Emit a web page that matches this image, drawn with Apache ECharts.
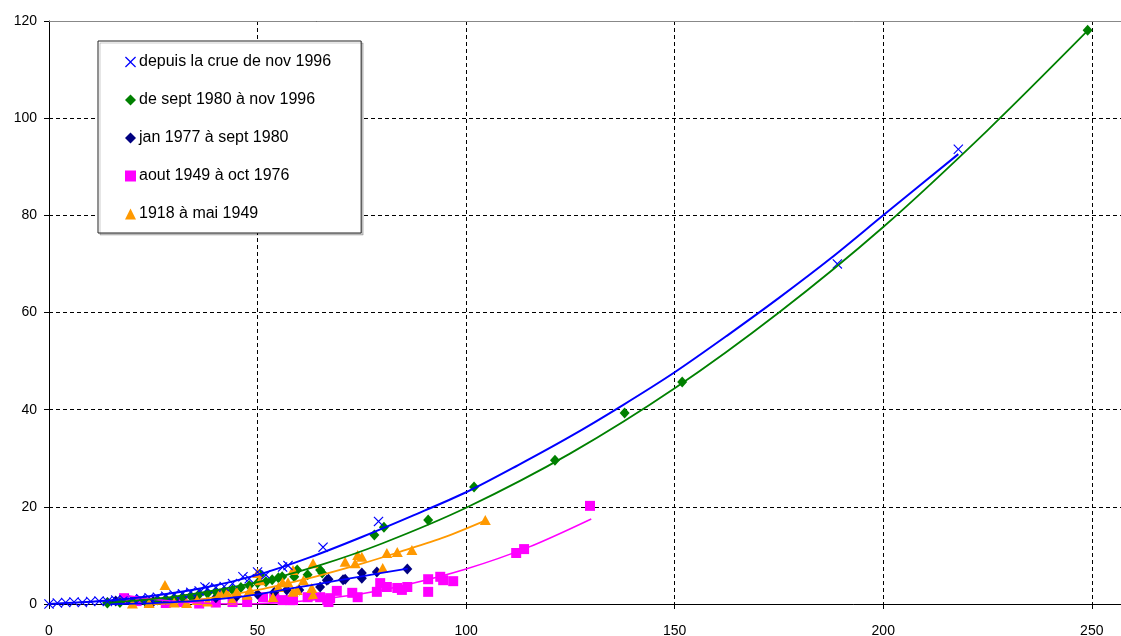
<!DOCTYPE html>
<html>
<head>
<meta charset="utf-8">
<script src="https://cdn.jsdelivr.net/npm/echarts@6/dist/echarts.min.js"></script>
<style>
  html, body { margin: 0; padding: 0; background: #fff; }
  #chart { width: 1121px; height: 636px; }
</style>
</head>
<body>
<div id="chart"></div>
<script>
// séries mesurées [x, y]
var crue1996 = [[0, 0], [2, 0.2], [4, 0.3], [6, 0.4], [8, 0.3], [10, 0.5], [12, 0.6], [14, 0.5], [16, 0.8], [18, 0.9],
    [20, 1.0], [22, 1.1], [24, 1.3], [26, 1.4], [28, 1.6], [30, 1.9], [32, 2.1], [34, 2.4], [36, 2.7], [37.4, 3.5],
    [38, 3.2], [40, 3.4], [42, 3.6], [44, 4.2], [46.5, 5.6], [48, 5.2], [50, 6.6], [52, 6.0], [56, 7.6], [57.3, 7.9],
    [65.7, 11.7], [79, 17], [189, 70], [218, 93.6]];
var sept1980 = [[14, 0.2], [17, 0.3], [20, 0.4], [23, 0.6], [26, 0.8], [28, 1.0], [30, 1.2], [32, 1.4], [34, 1.6],
    [36, 2.0], [38, 2.2], [40, 2.5], [42, 2.6], [44, 2.9], [46, 3.4], [48, 3.8], [50, 4.3], [50.6, 6.0], [52, 4.6],
    [53.5, 5.0], [55, 5.4], [55.9, 5.6], [58.8, 5.6], [59.5, 7.0], [62, 6.0], [65, 7.0], [65.5, 6.4], [78, 14.2],
    [80.3, 15.8], [90.9, 17.3], [101.9, 24.1], [121.3, 29.6], [138, 39.3], [151.8, 45.7], [249, 118.1]];
var jan1977 = [[14, 0.3], [16, 0.6], [20, 0.4], [25, 0.5], [30, 0.8], [35, 1.0], [40, 1.3], [45, 1.6], [50, 2.0],
    [54, 2.4], [57, 2.9], [60, 2.9], [65, 3.5], [66.6, 4.9], [67, 5.1], [70.5, 5.0], [71, 5.1], [75, 5.3], [75, 6.4],
    [78.6, 6.6], [85.9, 7.2]];
var aout1949 = [[18, 1.2], [21, 0.6], [24, 0.3], [28, 0.2], [32, 0.4], [36, 0.1], [40, 0.3], [44, 0.4], [47.5, 0.4],
    [51.3, 1.4], [54, 1.2], [56, 0.8], [57.8, 0.8], [58.5, 0.8], [62, 1.4], [65, 1.4], [66.7, 0.8], [67, 0.4],
    [67.4, 1.2], [69, 2.7], [72.7, 2.3], [74, 1.4], [78.6, 2.5], [79.4, 4.3], [81, 3.5], [83.5, 3.3], [84.6, 2.9],
    [85.9, 3.5], [90.9, 5.1], [90.9, 2.5], [93.8, 5.6], [94.5, 4.9], [96.9, 4.7], [112, 10.5], [113.9, 11.3],
    [129.7, 20.2]];
var an1918 = [[20, 0.1], [24, 0.2], [27.8, 3.9], [30, 0.3], [33, 0.2], [35.5, 0.8], [38, 0.5], [41, 2.3], [42.7, 2.3],
    [43.9, 0.8], [45, 2.5], [47.5, 1.9], [48.2, 2.9], [50, 6.4], [50.6, 4.9], [53.7, 1.4], [55, 3.5], [56, 4.5],
    [57.3, 4.5], [58.5, 7.0], [58.5, 2.5], [59.5, 2.9], [61, 4.9], [63, 3.3], [63.3, 8.4], [63.3, 1.9], [71, 8.7],
    [73.4, 8.4], [74, 10.1], [75, 9.7], [80, 7.4], [81, 10.5], [83.5, 10.7], [87, 11.1], [104.6, 17.3]];

// courbes de tendance
var tendCrue1996 = [[0, 0], [12.5, 0.6], [25, 1.7], [37.5, 3.4], [50, 6.0], [62.5, 9.6], [75, 13.8], [87.5, 18.3],
    [100, 23], [112.5, 28.6], [125, 34.5], [137.5, 40.9], [150, 47.7], [162.5, 55.2], [175, 63], [187.5, 71.2],
    [200, 80], [218, 92.6]];
var tendSept1980 = [[15, 0.3], [30, 1.5], [50, 4.5], [65, 8], [80, 12.5], [100, 19.8], [125, 31], [150, 44.4],
    [175, 60], [200, 77.6], [225, 97.5], [249, 118]];
var tendJan1977 = [[15, 0], [25, 0.2], [38, 0.8], [50, 2.0], [58, 3.2], [65, 4.2], [75, 5.7], [86, 7.3]];
var tendAout1949 = [[18, 1.8], [25, 1.0], [35, 0.25], [45, 0], [55, 0.25], [65, 1.0], [75, 2.1], [85, 3.8],
    [100, 7.2], [115, 11.7], [130, 17.5]];
var tendAn1918 = [[25, 0], [30, 0.2], [40, 1.4], [50, 2.9], [55.4, 3.9], [65, 5.9], [75, 8.3], [84, 10.7],
    [95, 13.8], [105, 17.3]];

var noms = ['depuis la crue de nov 1996', 'de sept 1980 à nov 1996', 'jan 1977 à sept 1980',
    'aout 1949 à oct 1976', '1918 à mai 1949'];

var croix = 'path://M0,0.8L0.8,0L5,4.2L9.2,0L10,0.8L5.8,5L10,9.2L9.2,10L5,5.8L0.8,10L0,9.2L4.2,5Z';

function getChart() {
    var dom = document.getElementById('chart')
    var instance = echarts.init(dom)

    function trend(data, color, width) {
        return {
            type: 'line',
            data: data,
            smooth: 0.3,
            showSymbol: false,
            silent: true,
            lineStyle: {color: color, width: width},
            z: 3
        }
    }

    let option = {
        animation: false,
        textStyle: {fontFamily: 'Liberation Sans, Arial, sans-serif'},
        grid: {
            left: 49,
            right: 0,
            top: 21,
            bottom: 32,
            outerBoundsMode: 'none'
        },
        legend: {
            orient: 'vertical',
            left: 98,
            top: 41,
            padding: [12, 30, 10, 27],
            itemGap: 20,
            itemWidth: 11,
            itemHeight: 11,
            backgroundColor: '#fff',
            borderColor: '#222',
            borderWidth: 1,
            shadowColor: 'rgba(0,0,0,0.2)',
            shadowOffsetX: 2,
            shadowOffsetY: 2,
            shadowBlur: 0,
            textStyle: {fontSize: 16, color: '#000', padding: [0, 0, 0, -2], lineHeight: 18},
            data: noms
        },
        xAxis: [
            {
                type: 'value',
                min: 0,
                max: 257,
                interval: 50,
                axisLine: {onZero: false, lineStyle: {color: '#000', width: 1}},
                axisTick: {show: true, length: 5, lineStyle: {color: '#000'}},
                axisLabel: {color: '#000', fontSize: 14, margin: 20, showMaxLabel: false},
                splitLine: {show: true, lineStyle: {color: '#000', type: [4, 3], width: 1}}
            },
            {
                type: 'value',
                position: 'top',
                min: 0,
                max: 257,
                axisLine: {show: true, onZero: false, lineStyle: {color: '#888', width: 1}},
                axisTick: {show: false},
                axisLabel: {show: false},
                splitLine: {show: false}
            }
        ],
        yAxis: {
            type: 'value',
            min: 0,
            max: 120,
            interval: 20,
            axisLine: {show: true, onZero: false, lineStyle: {color: '#000', width: 1}},
            axisTick: {show: true, length: 5, lineStyle: {color: '#000'}},
            axisLabel: {color: '#000', fontSize: 14, margin: 12, showMaxLabel: true},
            splitLine: {show: true, lineStyle: {color: '#000', type: [4, 3], width: 1}}
        },
        series: [
            {
                name: noms[3],
                type: 'scatter',
                data: aout1949,
                symbol: 'rect',
                symbolSize: 10,
                itemStyle: {color: '#ff00ff', opacity: 1}
            },
            {
                name: noms[2],
                type: 'scatter',
                data: jan1977,
                symbol: 'diamond',
                symbolSize: [10, 11],
                itemStyle: {color: '#000080', opacity: 1}
            },
            {
                name: noms[1],
                type: 'scatter',
                data: sept1980,
                symbol: 'diamond',
                symbolSize: [10, 11],
                itemStyle: {color: '#008000', opacity: 1}
            },
            {
                name: noms[4],
                type: 'scatter',
                data: an1918,
                symbol: 'triangle',
                symbolSize: [11, 10],
                itemStyle: {color: '#ff9900', opacity: 1}
            },
            {
                name: noms[0],
                type: 'scatter',
                data: crue1996,
                symbol: croix,
                symbolSize: 10,
                itemStyle: {color: '#0000ff', opacity: 1}
            },
            trend(tendAout1949, '#ff00ff', 1.5),
            trend(tendAn1918, '#ff9900', 1.8),
            trend(tendJan1977, '#0000ff', 1.8),
            trend(tendSept1980, '#008000', 1.8),
            trend(tendCrue1996, '#0000ff', 2)
        ]
    };

    instance.setOption(option)
}

getChart()
</script>
</body>
</html>
